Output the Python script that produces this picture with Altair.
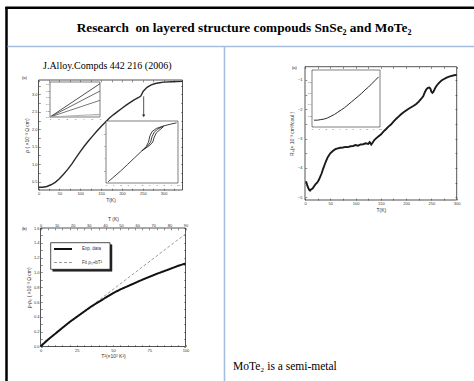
import altair as alt
import pandas as pd

W, H = 474, 381

# ---------------- text ----------------
title_text = "Research\u00a0 on layered structure compouds SnSe\u2082 and MoTe\u2082"
ref_text = "J.Alloy.Compds 442 216 (2006)"
note_text = "MoTe\u2082 is a semi-metal"

# ---------------- plot (a): rho vs T ----------------
a_T = [0, 10, 20, 30, 40, 50, 60, 70, 80, 90, 100, 110, 120, 130, 140, 150, 160, 170,
       180, 190, 200, 210, 220, 230, 240, 245, 248, 251, 255, 260, 270, 280, 290, 300, 320, 345]
a_rho = [0.34, 0.34, 0.36, 0.41, 0.48, 0.58, 0.71, 0.85, 1.01, 1.19, 1.36, 1.52, 1.67, 1.81,
         1.95, 2.08, 2.20, 2.32, 2.42, 2.51, 2.60, 2.69, 2.77, 2.85, 2.91, 2.95, 3.02, 3.09,
         3.14, 3.20, 3.27, 3.31, 3.33, 3.35, 3.36, 3.37]
a_xticks = [0, 50, 100, 150, 200, 250, 300]
a_yticks = [0.5, 1.0, 1.5, 2.0, 2.5, 3.0]
arrow_T = [252]
arrow_from = [2.94]
arrow_to = [2.38]

# inset a1 (fan of straight lines)
a1_names = ["s1", "s2", "s3", "s4", "s5"]
a1_x = [0, 6]
a1_y_start = [0.0, 0.0, 0.0, 0.0, 0.0]
a1_y_end = [1.0, 0.78, 0.5, 0.08, 0.03]
a1_colors = ["#222222", "#444444", "#555555", "#999999", "#bbbbbb"]

# inset a2 (transition region with hysteresis)
a2_c1_x = [0.3, 1, 2, 3, 4, 5, 5.6, 5.9, 6.1, 6.4, 7, 8, 9, 9.8]
a2_c1_y = [0.2, 0.9, 1.9, 3.0, 4.1, 5.2, 5.9, 6.6, 7.6, 8.3, 8.8, 9.2, 9.5, 9.7]
a2_c2_x = [5, 5.8, 6.2, 6.4, 6.7, 7.2, 8]
a2_c2_y = [5.2, 6.0, 6.6, 7.5, 8.2, 8.7, 9.2]
a2_c3_x = [5, 6.1, 6.5, 6.7, 7.0, 7.5, 8]
a2_c3_y = [5.2, 6.1, 6.6, 7.4, 8.1, 8.6, 9.1]

# ---------------- plot (b): rho - rho0 vs T^2 ----------------
b_T2 = [0, 5, 10, 15, 20, 25, 30, 35, 40, 45, 50, 55, 62, 70, 75, 80, 87, 95, 100]
b_exp = [0, 0.09, 0.17, 0.25, 0.33, 0.40, 0.47, 0.54, 0.60, 0.66, 0.72, 0.77, 0.83,
         0.90, 0.94, 0.98, 1.03, 1.09, 1.12]
b_fit_T2 = [0, 100]
b_fit = [0.02, 1.52]
b_series = ["Exp. data", "Fit \u03c1\u2080+bT\u00b2"]
b_xticks = [0, 25, 50, 75, 100]
b_yticks = [0.0, 0.2, 0.4, 0.6, 0.8, 1.0, 1.2, 1.4, 1.6]
b_top_ticks = [0, 10, 20, 30, 40, 50, 60, 70, 80, 90]

# ---------------- plot (c): Hall coefficient vs T (MoTe2) ----------------
c_T = [2, 5, 8, 10, 12, 15, 18, 21, 24, 27, 30, 33, 36, 39, 42, 45, 50, 55, 60, 65,
       70, 75, 80, 85, 90, 95, 100, 105, 110, 115, 120, 125, 128, 131, 134, 137, 140, 145,
       150, 155, 160, 165, 170, 175, 180, 185, 190, 195, 200, 205, 210, 215, 220, 225, 230,
       234, 237, 240, 243, 246, 248, 250, 252, 254, 256, 258, 261, 265, 270, 275, 280, 285,
       290, 295, 300]
c_R = [-4.45, -4.62, -4.74, -4.77, -4.73, -4.70, -4.62, -4.55, -4.50, -4.42, -4.30, -4.18,
       -4.02, -3.88, -3.75, -3.63, -3.50, -3.42, -3.36, -3.33, -3.31, -3.30, -3.28, -3.29,
       -3.26, -3.25, -3.22, -3.24, -3.20, -3.19, -3.16, -3.18, -3.12, -3.20, -3.13, -3.05,
       -3.00, -2.93, -2.86, -2.76, -2.68, -2.59, -2.52, -2.42, -2.33, -2.25, -2.17, -2.10,
       -2.04, -1.98, -1.93, -1.88, -1.82, -1.74, -1.64, -1.55, -1.42, -1.32, -1.27, -1.26,
       -1.30, -1.40, -1.44, -1.40, -1.33, -1.26, -1.18, -1.10, -1.02, -0.97, -0.92, -0.89,
       -0.86, -0.84, -0.83]
c_xticks = [0, 50, 100, 150, 200, 250, 300]
c_yticks = [-5, -4, -3, -2, -1]

# inset c
ci_x = [0.3, 0.8, 1.3, 1.8, 2.3, 2.8, 3.3, 3.8, 4.3, 4.8, 5.3, 5.8, 6.3, 6.8, 7.3, 7.8,
        8.3, 8.8, 9.3, 9.8]
ci_y = [0.12, 0.12, 0.13, 0.14, 0.16, 0.19, 0.22, 0.26, 0.30, 0.34, 0.39, 0.44, 0.49,
        0.54, 0.59, 0.65, 0.70, 0.76, 0.82, 0.88]

# ---------------- layout (pixel boxes of each panel) ----------------
A_X, A_Y = [38.5, 182.5], [190, 80]
A_XD, A_YD = [0, 345], [0.26, 3.41]
A1_X, A1_Y = [50, 100], [117, 82]
A1_XD, A1_YD = [0, 6], [0, 1.05]
A2_X, A2_Y = [106, 178], [183, 121]
A2_XD, A2_YD = [0, 10], [0, 10]
B_X, B_Y = [40.5, 185.5], [346.5, 228]
B_XD, B_YD = [0, 100], [0, 1.6]
C_X, C_Y = [305, 456.7], [200, 66.7]
C_XD, C_YD = [0, 300], [-5.09, -0.55]
CI_X, CI_Y = [312, 380], [127, 70]
CI_XD, CI_YD = [0, 10], [0, 1]
LEG_BOX = [50.7, 110, 242.7, 269.3]

LAB = "Liberation Sans"
SERIF = "Liberation Serif"
INK = "#2a2a2a"
BLUE = "#a3bedf"


def sc(dom, rng):
    return alt.Scale(domain=dom, range=rng, nice=False, zero=False)


def lab_axis(orient, offset, values, title=None, fs=4, tfs=5, fmt=None, lp=1.5, tp=1.5):
    kw = dict(orient=orient, offset=offset, values=values, ticks=False, domain=False,
              grid=False, labelFontSize=fs, titleFontSize=tfs, labelFont=LAB, titleFont=LAB,
              titleFontWeight="normal", labelColor="#333", titleColor="#333",
              labelPadding=lp, titlePadding=tp, title=title, labelFlush=False,
              labelOverlap=False)
    if fmt:
        kw["format"] = fmt
    return alt.Axis(**kw)


def tick_axis(orient, offset, values, size=1.8):
    return alt.Axis(orient=orient, offset=offset, values=values, labels=False, ticks=True,
                    tickSize=size, tickColor="#444", tickWidth=0.6, domain=False, grid=False,
                    title=None)


def frame(xd, xr, yd, yr, fill="white", fop=0.0, sw=0.8):
    df = pd.DataFrame({"x": [xd[0]], "x2": [xd[1]], "y": [yd[0]], "y2": [yd[1]]})
    return alt.Chart(df).mark_rect(fill=fill, fillOpacity=fop, stroke=INK, strokeWidth=sw).encode(
        x=alt.X("x:Q", scale=sc(xd, xr), axis=None), x2="x2:Q",
        y=alt.Y("y:Q", scale=sc(yd, yr), axis=None), y2="y2:Q")


def mirrors(xd, xr, yd, yr, xvals, yvals, size=1.8):
    df = pd.DataFrame({"x": xd, "y": yd})
    base = alt.Chart(df).mark_point(opacity=0)
    l1 = base.encode(
        x=alt.X("x:Q", scale=sc(xd, xr), axis=tick_axis("bottom", yr[1] - H, xvals, size)),
        y=alt.Y("y:Q", scale=sc(yd, yr), axis=tick_axis("left", -xr[1], yvals, size)))
    l2 = base.encode(
        x=alt.X("x:Q", scale=sc(xd, xr), axis=tick_axis("top", -yr[0], xvals, size)),
        y=alt.Y("y:Q", scale=sc(yd, yr), axis=tick_axis("right", xr[0] - W, yvals, size)))
    return [l1, l2]


def text(s, x, y, size, font=SERIF, weight="normal", align="left", angle=0, color="black"):
    return alt.Chart(alt.Data(values=[{}])).mark_text(
        text=s, fontSize=size, font=font, fontWeight=weight, align=align,
        baseline="alphabetic", angle=angle, color=color).encode(
        x=alt.value(x), y=alt.value(y))


def rule(x, x2, y, y2, color, sw):
    return alt.Chart(alt.Data(values=[{}])).mark_rule(color=color, strokeWidth=sw).encode(
        x=alt.value(x), x2=alt.value(x2), y=alt.value(y), y2=alt.value(y2))


def box(x, x2, y, y2, fill, stroke, sw):
    return alt.Chart(alt.Data(values=[{}])).mark_rect(fill=fill, stroke=stroke, strokeWidth=sw).encode(
        x=alt.value(x), x2=alt.value(x2), y=alt.value(y), y2=alt.value(y2))


layers = []

# ---- slide decorations ----
layers += [
    rule(6.5, 6.5, 7, H, "black", 2.5),
    rule(5.3, W, 7.8, 7.8, "black", 2.5),
    rule(7.5, W, 46.5, 46.5, BLUE, 1.6),
    rule(224.5, 224.5, 47, H, BLUE, 1.6),
    text(title_text, 244, 31.5, 13.3, weight="bold", align="center"),
    text(ref_text, 43, 68.5, 10),
    text(note_text, 233, 370, 11.5),
    text("(a)", 22, 79, 4, font=LAB),
    text("(b)", 22, 230, 4, font=LAB),
    text("(a)", 292, 69, 4, font=LAB),
]

# ---- plot (a) ----
df_a = pd.DataFrame({"T": a_T, "rho": a_rho})
layers.append(frame(A_XD, A_X, A_YD, A_Y))
layers += mirrors(A_XD, A_X, A_YD, A_Y, list(range(0, 346, 25)), [0.5 + 0.25 * i for i in range(12)])
layers.append(alt.Chart(df_a).mark_line(color=INK, strokeWidth=1.4).encode(
    x=alt.X("T:Q", scale=sc(A_XD, A_X),
            axis=lab_axis("bottom", A_Y[0] - H, a_xticks, "T(K)")),
    y=alt.Y("rho:Q", scale=sc(A_YD, A_Y),
            axis=lab_axis("left", -A_X[0], a_yticks,
                          "\u03c1 ( \u00d710\u207b\u00b3 \u03a9 cm)", fmt=".1f"))))
df_arrow = pd.DataFrame({"T": arrow_T, "y": arrow_from, "y2": arrow_to})
layers.append(alt.Chart(df_arrow).mark_rule(color=INK, strokeWidth=0.8).encode(
    x=alt.X("T:Q", scale=sc(A_XD, A_X), axis=None),
    y=alt.Y("y:Q", scale=sc(A_YD, A_Y), axis=None), y2="y2:Q"))
layers.append(alt.Chart(df_arrow).mark_point(shape="triangle-down", filled=True, size=10,
                                             color=INK, opacity=1).encode(
    x=alt.X("T:Q", scale=sc(A_XD, A_X), axis=None),
    y=alt.Y("y2:Q", scale=sc(A_YD, A_Y), axis=None)))

# inset a1
rows = []
for n, y0, y1 in zip(a1_names, a1_y_start, a1_y_end):
    rows.append({"s": n, "x": a1_x[0], "y": y0})
    rows.append({"s": n, "x": a1_x[1], "y": y1})
df_a1 = pd.DataFrame(rows)
layers.append(frame(A1_XD, A1_X, A1_YD, A1_Y, fop=1.0, sw=0.6))
layers.append(alt.Chart(df_a1).mark_line(strokeWidth=0.8).encode(
    x=alt.X("x:Q", scale=sc(A1_XD, A1_X),
            axis=lab_axis("bottom", A1_Y[0] - H, [0, 1, 2, 3, 4, 5, 6], None, fs=2.5, lp=1)),
    y=alt.Y("y:Q", scale=sc(A1_YD, A1_Y),
            axis=lab_axis("left", -A1_X[0], [0, 0.2, 0.4, 0.6, 0.8, 1.0], None, fs=2.5,
                          fmt=".1f", lp=1)),
    color=alt.Color("s:N", scale=alt.Scale(domain=a1_names, range=a1_colors), legend=None),
    detail="s:N"))

# inset a2
df_a2 = pd.concat([
    pd.DataFrame({"c": "c1", "x": a2_c1_x, "y": a2_c1_y, "o": range(len(a2_c1_x))}),
    pd.DataFrame({"c": "c2", "x": a2_c2_x, "y": a2_c2_y, "o": range(len(a2_c2_x))}),
    pd.DataFrame({"c": "c3", "x": a2_c3_x, "y": a2_c3_y, "o": range(len(a2_c3_x))}),
])
layers.append(frame(A2_XD, A2_X, A2_YD, A2_Y, fop=1.0, sw=0.6))
layers.append(alt.Chart(df_a2).mark_line(color=INK, strokeWidth=0.9).encode(
    x=alt.X("x:Q", scale=sc(A2_XD, A2_X),
            axis=lab_axis("bottom", A2_Y[0] - H, list(range(0, 11)), None, fs=2.5, lp=1)),
    y=alt.Y("y:Q", scale=sc(A2_YD, A2_Y),
            axis=lab_axis("left", -A2_X[0], [2, 4, 6, 8], None, fs=2.5, lp=1)),
    order="o:Q", detail="c:N"))

# ---- plot (b) ----
df_b = pd.concat([
    pd.DataFrame({"s": b_series[1], "x": b_fit_T2, "y": b_fit, "o": range(len(b_fit))}),
    pd.DataFrame({"s": b_series[0], "x": b_T2, "y": b_exp, "o": range(len(b_exp))}),
])
layers.append(frame(B_XD, B_X, B_YD, B_Y))
layers += mirrors(B_XD, B_X, B_YD, B_Y, list(range(0, 101, 5)), [0.1 * i for i in range(17)])
layers.append(alt.Chart(pd.DataFrame({"t": [b_top_ticks[0], b_top_ticks[-1]]})).mark_point(opacity=0).encode(
    x=alt.X("t:Q", scale=sc([b_top_ticks[0], b_top_ticks[-1]], B_X),
            axis=lab_axis("top", -B_Y[1], b_top_ticks, "T (K)", lp=1, tp=2))))

# legend frame with drop shadow
lx0, lx1, ly0, ly1 = LEG_BOX
layers += [
    box(lx0 + 2, lx1 + 2, ly0 + 2, ly1 + 2, "#222", "#222", 0.5),
    box(lx0, lx1, ly0, ly1, "white", "#222", 0.8),
]


def leg():
    return alt.Legend(orient="none", legendX=53, legendY=239, title=None,
                      padding=0, labelFontSize=4.5, labelFont=LAB, labelColor="#333",
                      symbolType="stroke", symbolSize=324, rowPadding=-6, labelOffset=9)


layers.append(alt.Chart(df_b).mark_line().encode(
    x=alt.X("x:Q", scale=sc(B_XD, B_X),
            axis=lab_axis("bottom", B_Y[0] - H, b_xticks, "T\u00b2(\u00d710\u00b3 K\u00b2)")),
    y=alt.Y("y:Q", scale=sc(B_YD, B_Y),
            axis=lab_axis("left", -B_X[0], b_yticks,
                          "\u03c1-\u03c1\u2080 ( \u00d710\u207b\u00b3 \u03a9 cm)", fmt=".1f")),
    color=alt.Color("s:N", scale=alt.Scale(domain=b_series, range=["#111111", "#9a9a9a"]),
                    legend=leg()),
    strokeDash=alt.StrokeDash("s:N", scale=alt.Scale(domain=b_series, range=[[1, 0], [3, 2]]),
                              legend=leg()),
    strokeWidth=alt.StrokeWidth("s:N", scale=alt.Scale(domain=b_series, range=[2.0, 1.0]),
                                legend=leg()),
    order="o:Q"))

# ---- plot (c) ----
df_c = pd.DataFrame({"T": c_T, "R": c_R})
layers.append(frame(C_XD, C_X, C_YD, C_Y))
layers += mirrors(C_XD, C_X, C_YD, C_Y, list(range(0, 301, 25)), [-5 + 0.5 * i for i in range(9)])
layers.append(alt.Chart(df_c).mark_line(color="#1a1a1a", strokeWidth=1.9).encode(
    x=alt.X("T:Q", scale=sc(C_XD, C_X),
            axis=lab_axis("bottom", C_Y[0] - H, c_xticks, "T(K)", tp=2)),
    y=alt.Y("R:Q", scale=sc(C_YD, C_Y),
            axis=lab_axis("left", -C_X[0], c_yticks,
                          "R\u2095(\u00d7 10\u207b\u00b3 cm\u00b3/coul )", fmt="d", lp=3, tp=3))))
df_ci = pd.DataFrame({"x": ci_x, "y": ci_y})
layers.append(frame(CI_XD, CI_X, CI_YD, CI_Y, fop=1.0, sw=0.6))
layers.append(alt.Chart(df_ci).mark_line(color=INK, strokeWidth=1.0).encode(
    x=alt.X("x:Q", scale=sc(CI_XD, CI_X),
            axis=lab_axis("bottom", CI_Y[0] - H, list(range(0, 11)), None, fs=2.5, lp=1)),
    y=alt.Y("y:Q", scale=sc(CI_YD, CI_Y),
            axis=lab_axis("left", -CI_X[0], [0.2, 0.4, 0.6, 0.8], None, fs=2.5, fmt=".1f", lp=1))))

chart = alt.layer(*layers).resolve_scale(
    x="independent", y="independent", color="independent",
    strokeDash="independent", strokeWidth="independent"
).properties(
    width=W, height=H, autosize=alt.AutoSizeParams(type="none"), padding=0,
    background="white"
).configure_view(strokeWidth=0)

chart.save("out.html", embed_options={"renderer": "svg", "actions": False})
